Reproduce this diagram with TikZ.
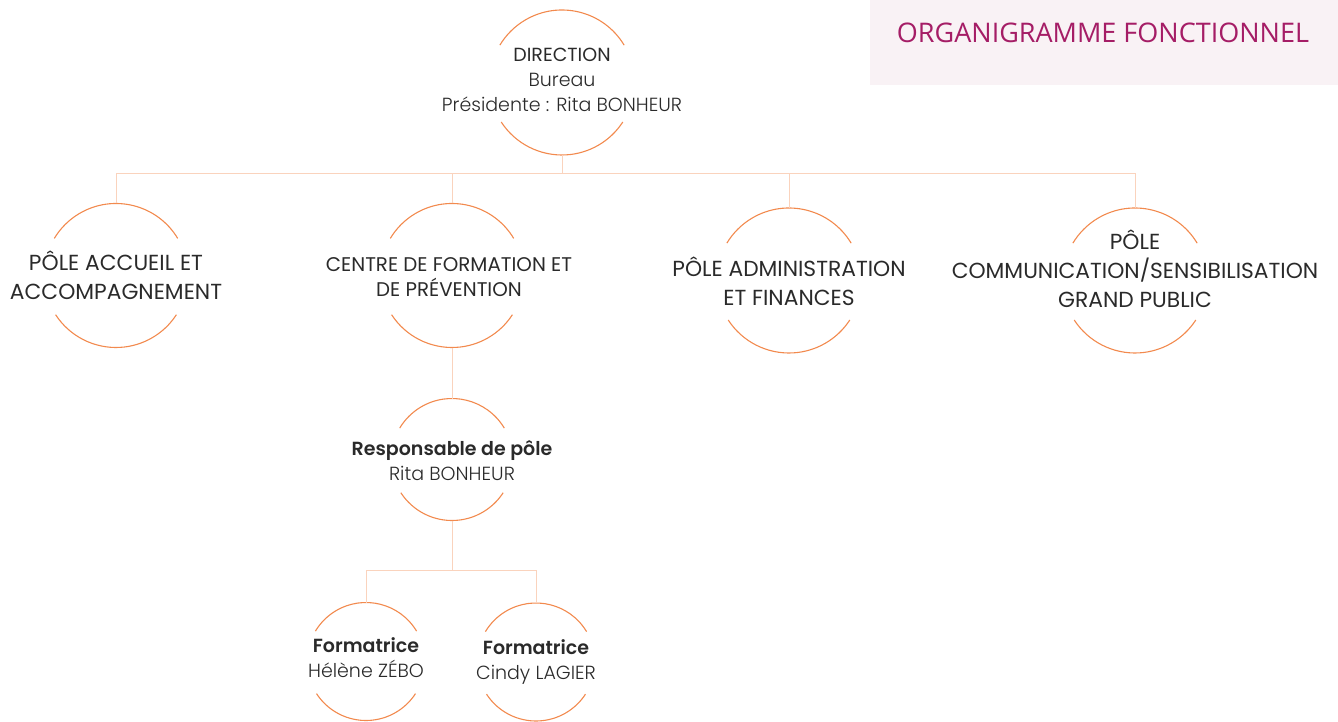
\documentclass[tikz,border=0pt]{standalone}
\usepackage{fontspec}
\setmainfont{Poppins}[BoldFont={Poppins SemiBold}]
\newfontfamily\lightfont{Poppins Light}
\newfontfamily\titlefont{Open Sans}
\definecolor{ringorange}{HTML}{F28A4E}
\definecolor{linkpeach}{HTML}{FAD3BD}
\definecolor{ink}{HTML}{2A2A2A}
\definecolor{plum}{HTML}{A51D66}
\definecolor{blush}{HTML}{F9F2F5}
\tikzset{
  ring/.style={circle,minimum size=#1,inner sep=0pt,outer sep=0pt},
  arcline/.style={draw=ringorange,line width=1.1pt},
  link/.style={draw=linkpeach,line width=1pt},
  txt/.style={align=center,text=ink,inner sep=0pt},
  big/.style={font=\fontsize{21.8}{29}\selectfont},
  small/.style={font=\fontsize{19}{25}\selectfont}
}
\begin{document}
\begin{tikzpicture}[x=1pt,y=1pt]
        \useasboundingbox (0,0) rectangle (1338,-722);
        % title box
        \fill [blush] (870,0) rectangle (1338,-85);
        \node [text=plum,font=\titlefont\fontsize{27}{30}\selectfont,inner sep=0pt] (title) at (1103,-33) {ORGANIGRAMME FONCTIONNEL};
        % rings
        \node [ring=145] (dir) at (562,-82.5) {};
        \node [ring=144] (acc) at (116,-275.5) {};
        \node [ring=144] (cfp) at (452,-275.5) {};
        \node [ring=145] (adm) at (789,-280.5) {};
        \node [ring=145] (com) at (1135,-280.5) {};
        \node [ring=122] (resp) at (452,-459.5) {};
        \node [ring=118] (fa) at (366,-661.5) {};
        \node [ring=118] (fb) at (536,-662) {};
        \foreach \n/\r in {dir/72.5,acc/72,cfp/72,adm/72.5,com/72.5,resp/61,fa/59,fb/59}{
            \draw [arcline] (\n.31) arc [start angle=31,end angle=149,radius=\r];
            \draw [arcline] (\n.213) arc [start angle=213,end angle=327,radius=\r];
        }
        % texts
        \node [txt,small] (dirtx) at (dir) [yshift=2.5pt] {DIRECTION\\{\lightfont Bureau}\\{\lightfont Présidente : Rita BONHEUR}};
        \node [txt,big] (acctx) at (acc) {PÔLE ACCUEIL ET\\ACCOMPAGNEMENT};
        \node [txt,small,font=\fontsize{19.8}{25}\selectfont] (cfptx) at (cfp) [xshift=-3pt,yshift=-1.5pt] {CENTRE DE FORMATION ET\\DE PRÉVENTION};
        \node [txt,big] (admtx) at (adm) [yshift=-1pt] {PÔLE ADMINISTRATION\\ET FINANCES};
        \node [txt,big] (comtx) at (com) [yshift=11.5pt] {PÔLE\\COMMUNICATION/SENSIBILISATION\\GRAND PUBLIC};
        \node [txt,small] (resptx) at (resp) [yshift=-1pt] {\textbf{Responsable de pôle}\\{\lightfont Rita BONHEUR}};
        \node [txt,small] (fatx) at (fa) [yshift=3.5pt] {\textbf{Formatrice}\\{\lightfont Hélène ZÉBO}};
        \node [txt,small] (fbtx) at (fb) [yshift=0pt] {\textbf{Formatrice}\\{\lightfont Cindy LAGIER}};
        % links
        \coordinate (bus) at (0,-174);
        \coordinate (subbus) at (0,-570);
        \draw [link] (dir.south) -- (dir.south |- bus);
        \draw [link] (acc.north) |- (com.north |- bus) -- (com.north);
        \draw [link] (cfp.north) -- (cfp.north |- bus);
        \draw [link] (adm.north) -- (adm.north |- bus);
        \draw [link] (cfp.south) -- (resp.north);
        \draw [link] (resp.south) -- (resp.south |- subbus);
        \draw [link] (fa.north) |- (fb.north |- subbus) -- (fb.north);
\end{tikzpicture}
\end{document}
